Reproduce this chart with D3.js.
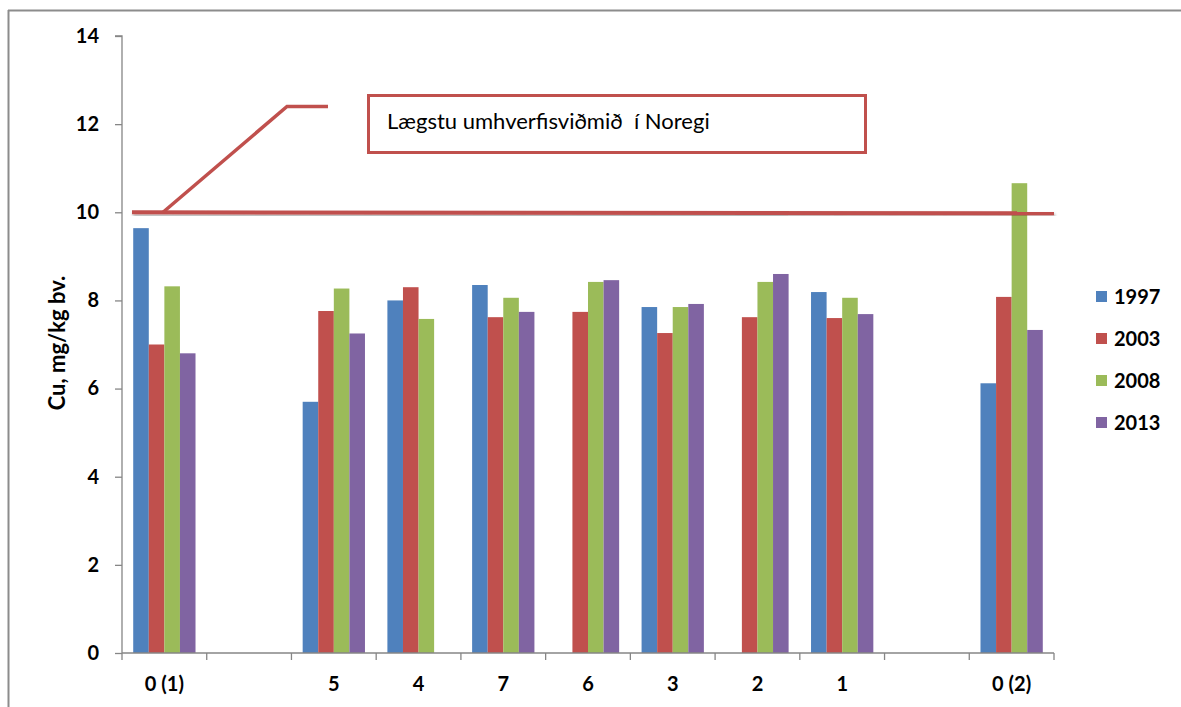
<!DOCTYPE html>
<html><head><meta charset="utf-8">
<script src="https://cdn.jsdelivr.net/npm/d3@7"></script>
<style>html,body{margin:0;padding:0;background:#fff;}svg{display:block;font-family:Lato,"Open Sans",sans-serif;}</style>
</head><body><svg id="c" width="1181" height="707"></svg>
<script>
const categories = ["0 (1)", "", "5", "4", "7", "6", "3", "2", "1", "", "0 (2)"];
const seriesNames = ["1997", "2003", "2008", "2013"];
const colors = ["#4f81bd", "#c0504d", "#9bbb59", "#8064a2"];
const v1997 = [9.64, null, 5.70, 8.00, 8.35, null, 7.85, null, 8.19, null, 6.12];
const v2003 = [7.00, null, 7.76, 8.30, 7.62, 7.74, 7.26, 7.62, 7.60, null, 8.08];
const v2008 = [8.32, null, 8.27, 7.58, 8.06, 8.42, 7.85, 8.42, 8.06, null, 10.66];
const v2013 = [6.80, null, 7.25, null, 7.74, 8.46, 7.92, 8.60, 7.69, null, 7.33];
const yTicks = [0, 2, 4, 6, 8, 10, 12, 14];
const limitValue = 10;
const limitLabel = "Lægstu umhverfisviðmið  í Noregi";
const yTitle = "Cu, mg/kg bv.";

const series = [v1997, v2003, v2008, v2013];
const svg = d3.select("#c");
const L = 122, R = 1054, T = 36, B = 653;
const ids = categories.map((c, i) => i);
const x = d3.scaleBand().domain(ids).range([L, R]).padding(0);
const x1 = d3.scaleBand().domain(seriesNames).range([0, x.bandwidth()]).paddingInner(0).paddingOuter(0.72);
const y = d3.scaleLinear().domain([0, 14]).range([B, T]);

// outer frame lines (partial border)
svg.append("line").attr("x1", 8.5).attr("y1", 10).attr("x2", 8.5).attr("y2", 707).attr("stroke", "#8c8c8c").attr("stroke-width", 2);
svg.append("line").attr("x1", 8).attr("y1", 10.5).attr("x2", 1181).attr("y2", 10.5).attr("stroke", "#8c8c8c").attr("stroke-width", 2);

// bars
const g = svg.append("g");
series.forEach((vals, si) => {
  g.selectAll(null).data(vals.map((v, i) => ({v, i})).filter(d => d.v != null)).enter()
    .append("rect")
    .attr("x", d => x(d.i) + x1(seriesNames[si]))
    .attr("width", x1.bandwidth())
    .attr("y", d => y(d.v))
    .attr("height", d => B - y(d.v))
    .attr("fill", colors[si]);
});

// y axis
const yAxis = d3.axisLeft(y).tickValues(yTicks).tickSize(7).tickPadding(16).tickFormat(d3.format("d"));
const ya = svg.append("g").attr("transform", `translate(${L},0)`).call(yAxis);
ya.select(".domain").attr("stroke", "#868686").attr("stroke-width", 1.3).attr("d", `M-7,${T}H0V${B}`);
ya.selectAll(".tick line").attr("stroke", "#868686").attr("stroke-width", 1.3);
ya.selectAll(".tick text").attr("font-size", 20).attr("font-weight", "bold").attr("fill", "#000").attr("font-family", "Lato,sans-serif");

// x axis
const xa = svg.append("g").attr("transform", `translate(0,${B})`);
xa.append("line").attr("x1", L).attr("x2", R).attr("y1", 0).attr("y2", 0).attr("stroke", "#868686").attr("stroke-width", 1.3);
const bounds = ids.map(i => x(i)).concat([R]);
xa.selectAll(".tk").data(bounds).enter().append("line")
  .attr("x1", d => d).attr("x2", d => d).attr("y1", 0).attr("y2", 7).attr("stroke", "#868686").attr("stroke-width", 1.3);
xa.selectAll(".lb").data(ids).enter().append("text")
  .attr("x", d => x(d) + x.bandwidth() / 2).attr("y", 38)
  .attr("text-anchor", "middle").attr("font-size", 20).attr("font-weight", "bold").attr("fill", "#000")
  .text(d => categories[d]);

// y title
svg.append("text").attr("transform", `translate(65,343) rotate(-90)`).attr("text-anchor", "middle")
  .attr("font-size", 22).attr("font-weight", "bold").text(yTitle);

// limit line with shadow
const defs = svg.append("defs");
const f = defs.append("filter").attr("id", "sh").attr("x", "-5%").attr("y", "-200%").attr("width", "110%").attr("height", "500%");
f.append("feDropShadow").attr("dx", 1).attr("dy", 2).attr("stdDeviation", 1.5).attr("flood-color", "#000").attr("flood-opacity", 0.35);
svg.append("line").attr("x1", 132).attr("x2", R).attr("y1", y(limitValue)).attr("y2", y(limitValue) + 1)
  .attr("stroke", "#c0504d").attr("stroke-width", 4).attr("filter", "url(#sh)");

// callout connector
svg.append("path").attr("d", `M163,${y(limitValue)}L287,${y(12.4)}H328`).attr("fill", "none")
  .attr("stroke", "#c0504d").attr("stroke-width", 3.5);

// callout box
svg.append("rect").attr("x", 368.5).attr("y", 95.5).attr("width", 497).attr("height", 57)
  .attr("fill", "#fff").attr("stroke", "#c0504d").attr("stroke-width", 3);
svg.append("text").attr("x", 387).attr("y", 129).attr("font-size", 22).attr("fill", "#000")
  .style("white-space", "pre").text(limitLabel);

// legend
const lg = svg.append("g");
seriesNames.forEach((s, i) => {
  const cy = 297 + i * 42;
  lg.append("rect").attr("x", 1096).attr("y", cy - 6).attr("width", 11).attr("height", 11).attr("fill", colors[i]);
  lg.append("text").attr("x", 1114).attr("y", cy).attr("dy", "0.36em").attr("font-size", 20).attr("font-weight", "bold").text(s);
});
</script></body></html>
